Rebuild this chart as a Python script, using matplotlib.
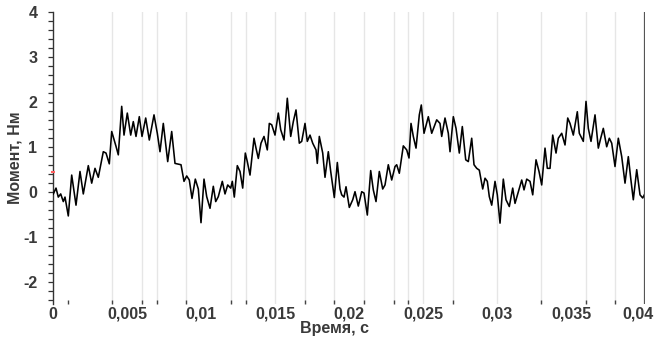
import numpy as np
import matplotlib
matplotlib.use("Agg")
import matplotlib.pyplot as plt
import matplotlib.transforms as mtransforms
from matplotlib.ticker import FixedLocator, MultipleLocator

plt.rcParams['font.family'] = ['Liberation Sans', 'DejaVu Sans']

# time of samples (ms)
t_ms = [0.000, 0.183, 0.338, 0.500, 0.676, 0.791, 1.014, 1.244, 1.535, 1.805,
        2.028, 2.366, 2.596, 2.819, 3.042, 3.380, 3.563, 3.786, 3.948, 4.239,
        4.394, 4.624, 4.780, 5.003, 5.233, 5.408, 5.591, 5.814, 5.997, 6.247,
        6.490, 6.808, 7.031, 7.213, 7.436, 7.734, 8.004, 8.227, 8.633, 8.836,
        9.018, 9.194, 9.377, 9.600, 9.803, 9.985, 10.188, 10.370, 10.594, 10.817,
        10.979, 11.155, 11.425, 11.608, 11.790, 11.993, 12.101, 12.236, 12.439, 12.622,
        12.804, 12.980, 13.115, 13.298, 13.568, 13.703, 13.859, 14.041, 14.244, 14.467,
        14.602, 14.765, 14.988, 15.211, 15.373, 15.596, 15.819, 16.049, 16.225, 16.407,
        16.631, 16.793, 17.016, 17.171, 17.354, 17.536, 17.760, 17.847, 17.983, 18.213,
        18.368, 18.591, 18.754, 18.997, 19.200, 19.382, 19.497, 19.653, 19.788, 20.011,
        20.241, 20.396, 20.619, 20.849, 21.005, 21.228, 21.457, 21.633, 21.816, 22.039,
        22.269, 22.424, 22.647, 22.877, 23.100, 23.215, 23.391, 23.661, 23.891, 24.047,
        24.182, 24.337, 24.520, 24.743, 24.878, 25.061, 25.352, 25.581, 25.919, 26.142,
        26.257, 26.480, 26.704, 26.819, 27.042, 27.225, 27.447, 27.650, 27.880, 28.056,
        28.285, 28.441, 28.624, 28.799, 29.029, 29.185, 29.340, 29.475, 29.638, 29.861,
        30.016, 30.199, 30.422, 30.604, 30.827, 31.057, 31.213, 31.436, 31.666, 31.821,
        32.004, 32.227, 32.410, 32.633, 32.836, 33.017, 33.241, 33.396, 33.579, 33.761,
        33.985, 34.140, 34.370, 34.593, 34.776, 34.931, 35.154, 35.424, 35.559, 35.830,
        36.012, 36.168, 36.350, 36.621, 36.844, 37.006, 37.182, 37.411, 37.587, 37.750,
        37.973, 38.196, 38.426, 38.649, 38.872, 39.034, 39.210, 39.440, 39.663, 39.846,
        39.954]

# torque (N*m)
moment = [-0.05, 0.08, -0.12, -0.05, -0.22, -0.12, -0.54, 0.37, -0.30, 0.45,
          -0.05, 0.58, 0.19, 0.52, 0.32, 0.89, 0.86, 0.62, 1.34, 1.01,
          0.82, 1.90, 1.26, 1.75, 1.26, 1.56, 1.23, 1.67, 1.23, 1.64,
          1.15, 1.71, 1.30, 0.89, 1.52, 0.67, 1.34, 0.63, 0.60, 0.23,
          0.35, 0.26, -0.15, 0.28, 0.06, -0.69, 0.28, -0.11, -0.37, 0.12,
          -0.22, -0.11, 0.23, -0.05, 0.15, 0.08, 0.23, -0.12, 0.58, 0.45,
          0.08, 0.86, 0.67, 0.37, 1.19, 0.97, 0.74, 1.08, 1.23, 0.93,
          1.52, 1.49, 1.26, 1.75, 1.38, 1.15, 2.08, 1.23, 1.56, 1.82,
          1.08, 1.12, 1.52, 1.12, 1.26, 1.08, 0.93, 0.63, 1.23, 0.86,
          0.32, 0.89, 0.45, -0.13, 0.65, 0.06, -0.07, -0.12, 0.11, -0.35,
          -0.18, 0.00, -0.32, 0.00, -0.03, -0.52, 0.47, 0.04, -0.22, 0.45,
          0.06, 0.15, 0.60, 0.26, 0.56, 0.60, 0.41, 1.02, 0.93, 0.75,
          1.52, 1.23, 0.97, 1.71, 1.93, 1.30, 1.67, 1.30, 1.60, 1.52,
          1.23, 1.64, 1.30, 0.89, 1.67, 1.41, 0.86, 1.45, 0.71, 0.67,
          1.19, 0.60, 0.52, 0.48, 0.06, 0.30, 0.23, -0.11, -0.30, 0.23,
          -0.07, -0.70, 0.28, -0.18, -0.33, 0.08, -0.26, 0.00, 0.26, 0.04,
          0.28, 0.23, -0.07, 0.71, 0.45, 0.15, 0.97, 0.52, 0.52, 1.26,
          0.86, 1.19, 1.30, 1.04, 1.64, 1.52, 1.26, 1.78, 1.30, 1.12,
          2.01, 1.41, 1.12, 1.71, 0.97, 1.19, 1.41, 1.00, 1.19, 1.08,
          0.56, 1.19, 0.78, 0.19, 0.78, 0.30, -0.18, 0.49, -0.07, -0.14,
          -0.07]

# x tick labels (s)
xtick_vals = [0, 0.005, 0.01, 0.015, 0.02, 0.025, 0.03, 0.035, 0.04]
xtick_labels = ['0', '0,005', '0,01', '0,015', '0,02', '0,025', '0,03', '0,035', '0,04']
# y tick labels
ytick_vals = [-2, -1, 0, 1, 2, 3, 4]
# vertical marker lines (s)
grid_times = [0.004, 0.006, 0.007, 0.009, 0.012, 0.013, 0.015, 0.017, 0.019,
              0.021, 0.023, 0.024, 0.025, 0.027, 0.030, 0.033, 0.036, 0.038]
marker_ticks = [0.001] + grid_times
start_mark = 0.43

t = np.array(t_ms) / 1000.0

fig = plt.figure(figsize=(6.56, 3.40), dpi=100)
ax = fig.add_axes([53.3 / 656, 36 / 340, (645 - 53.3) / 656, (304 - 12) / 340])

for g in grid_times:
    ax.axvline(g, color='#e6e6e6', lw=1.0, zorder=0)

ax.plot(t, moment, color='black', lw=1.15, zorder=3)
ax.axvline(0.04, color='#555555', lw=1.6, zorder=4)
ax.plot([0], [start_mark], marker='_', color='#ff6060', ms=3, mew=1.5,
        clip_on=False, zorder=5)

ax.set_xlim(0, 0.04)
ax.set_ylim(-2.5, 4)

for s in ['top', 'right', 'bottom']:
    ax.spines[s].set_visible(False)
ax.spines['left'].set_color('#333333')
ax.spines['left'].set_linewidth(1.0)

tick_font = dict(fontsize=11.5, fontweight='bold')
txt_color = '#3a3a3a'

ax.yaxis.set_major_locator(FixedLocator(ytick_vals))
ax.yaxis.set_minor_locator(MultipleLocator(0.2))
ax.tick_params(axis='y', which='both', direction='out', length=3.5, width=0.9,
               color='#333333', labelcolor=txt_color, pad=8)
for lab in ax.get_yticklabels():
    lab.set_fontsize(tick_font['fontsize'])
    lab.set_fontweight(tick_font['fontweight'])

ax.set_xticks(xtick_vals)
ax.set_xticklabels(xtick_labels, **tick_font)
ax.xaxis.set_minor_locator(FixedLocator(marker_ticks))
ax.tick_params(axis='x', which='major', length=0, labelcolor=txt_color, pad=2)
ax.tick_params(axis='x', which='minor', direction='in', length=3, width=1.0,
               color='#444444')
ax.set_yticks(ytick_vals)
ax.set_yticklabels([str(v) for v in ytick_vals], **tick_font)

# shift last x label left so it stays inside the figure, as in the reference
last = ax.get_xticklabels()[-1]
last.set_transform(last.get_transform() +
                   mtransforms.ScaledTranslation(-7 / 100, 0, fig.dpi_scale_trans))

fig.text(335 / 656, 1 - 329 / 340, 'Время, с', ha='center', va='center',
         fontsize=11.5, fontweight='bold', color=txt_color)
fig.text(15 / 656, 1 - 158 / 340, 'Момент, Нм', ha='center', va='center',
         rotation=90, fontsize=11.5, fontweight='bold', color=txt_color)

fig.savefig('out.png', dpi=100)
